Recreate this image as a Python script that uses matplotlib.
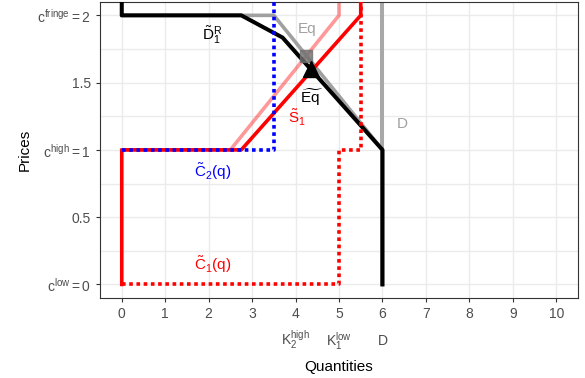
import numpy as np
import matplotlib.pyplot as plt

plt.rcParams['font.family'] = ['Liberation Sans', 'DejaVu Sans']
plt.rcParams['mathtext.fontset'] = 'custom'
plt.rcParams['mathtext.rm'] = 'Liberation Sans'
plt.rcParams['mathtext.it'] = 'Liberation Sans'
plt.rcParams['mathtext.default'] = 'regular'

# residual demand (smoothed) and its reference version
q_d1r = [0, 0, 2.75, 3.7, 6, 6]
p_d1r = [2.3, 2, 2, 1.835, 1, 0]
q_eq = [0, 3.5, 6, 6]
p_eq = [2, 2, 1, 0]

# demand
q_dem = [6, 6]
p_dem = [0, 2.3]

# supply of firm 1 (smoothed) and reference version
q_s1 = [0, 0, 2.75, 5.5, 5.5]
p_s1 = [0, 1, 1, 2, 2.3]
q_s1_ref = [0, 2.5, 5, 5]
p_s1_ref = [1, 1, 2, 2.3]

# cost curves
q_c1 = [0, 5, 5, 5.5, 5.5]
p_c1 = [0, 0, 1, 1, 2.3]
q_c2 = [0, 3.5, 3.5]
p_c2 = [1, 1, 2.3]

# equilibria
eq_ref = (4.25, 1.7)
eq_tilde = (4.36, 1.6)

yticks = [0, 0.5, 1, 1.5, 2]
ylabels = [r'$c^{low} = 0$', '0.5', r'$c^{high} = 1$', '1.5', r'$c^{fringe} = 2$']
xticks = list(range(0, 11))
extra_x = [4, 5, 6]
extra_lab = [r'$K_2^{high}$', r'$K_1^{low}$', 'D']

grey30 = '#4D4D4D'
fig = plt.figure(figsize=(5.85, 3.78), dpi=100)
ax = fig.add_axes([0.171, 0.212, 0.817, 0.783])

for y in np.arange(0, 2.01, 0.25):
    ax.axhline(y, color='#EBEBEB', lw=1.0, zorder=0)
for x in xticks:
    ax.axvline(x, color='#EBEBEB', lw=1.0, zorder=0)

lw = 2.6
ax.plot(q_s1_ref, p_s1_ref, color='red', alpha=0.4, lw=lw, zorder=2)
ax.plot(q_dem, p_dem, color='#A8A8A8', lw=lw + 0.3, zorder=2)
ax.plot(q_eq, p_eq, color='#A0A0A0', lw=lw, zorder=2)
ax.plot(q_s1, p_s1, color='red', lw=lw, zorder=3)
ax.plot(q_d1r, p_d1r, color='black', lw=lw + 0.3, zorder=4)
ax.plot(q_c2, p_c2, color='blue', lw=lw, ls=(0, (1, 1)), zorder=5)
ax.plot(q_c1, p_c1, color='red', lw=lw, ls=(0, (1, 1)), zorder=5)

ax.plot(*eq_ref, marker='s', ms=9, color='#707070', alpha=0.8, zorder=6)
ax.plot(*eq_tilde, marker='^', ms=11, color='black', zorder=7)

ax.text(2.09, 1.85, r'$\tilde{D}_1^R$', fontsize=11, ha='center', va='center')
ax.text(4.27, 1.9, 'Eq', fontsize=11, color='#A0A0A0', ha='center', va='center')
ax.text(4.37, 1.39, r'$\widetilde{Eq}$', fontsize=11, ha='center', va='center')
ax.text(4.04, 1.24, r'$\tilde{S}_1$', fontsize=11, color='red', ha='center', va='center')
ax.text(6.45, 1.19, 'D', fontsize=11, color='#A0A0A0', ha='center', va='center')
ax.text(2.1, 0.84, r'$\tilde{C}_2(q)$', fontsize=11, color='blue', ha='center', va='center')
ax.text(2.1, 0.15, r'$\tilde{C}_1(q)$', fontsize=11, color='red', ha='center', va='center')

ax.set_xlim(-0.5, 10.5)
ax.set_ylim(-0.1, 2.1)
ax.set_xticks(xticks)
ax.set_yticks(yticks)
ax.set_yticklabels(ylabels)
ax.tick_params(colors='#333333', labelcolor=grey30, labelsize=10, length=3, width=0.8)
for s in ax.spines.values():
    s.set_color('#333333')
    s.set_linewidth(0.8)

for x, lab in zip(extra_x, extra_lab):
    ax.text(x, -0.145, lab, transform=ax.get_xaxis_transform(), ha='center', va='center',
            fontsize=10, color=grey30, clip_on=False)

ax.set_xlabel('Quantities', fontsize=11, labelpad=28)
ax.set_ylabel('Prices', fontsize=11)

fig.savefig('out.png', dpi=100)
